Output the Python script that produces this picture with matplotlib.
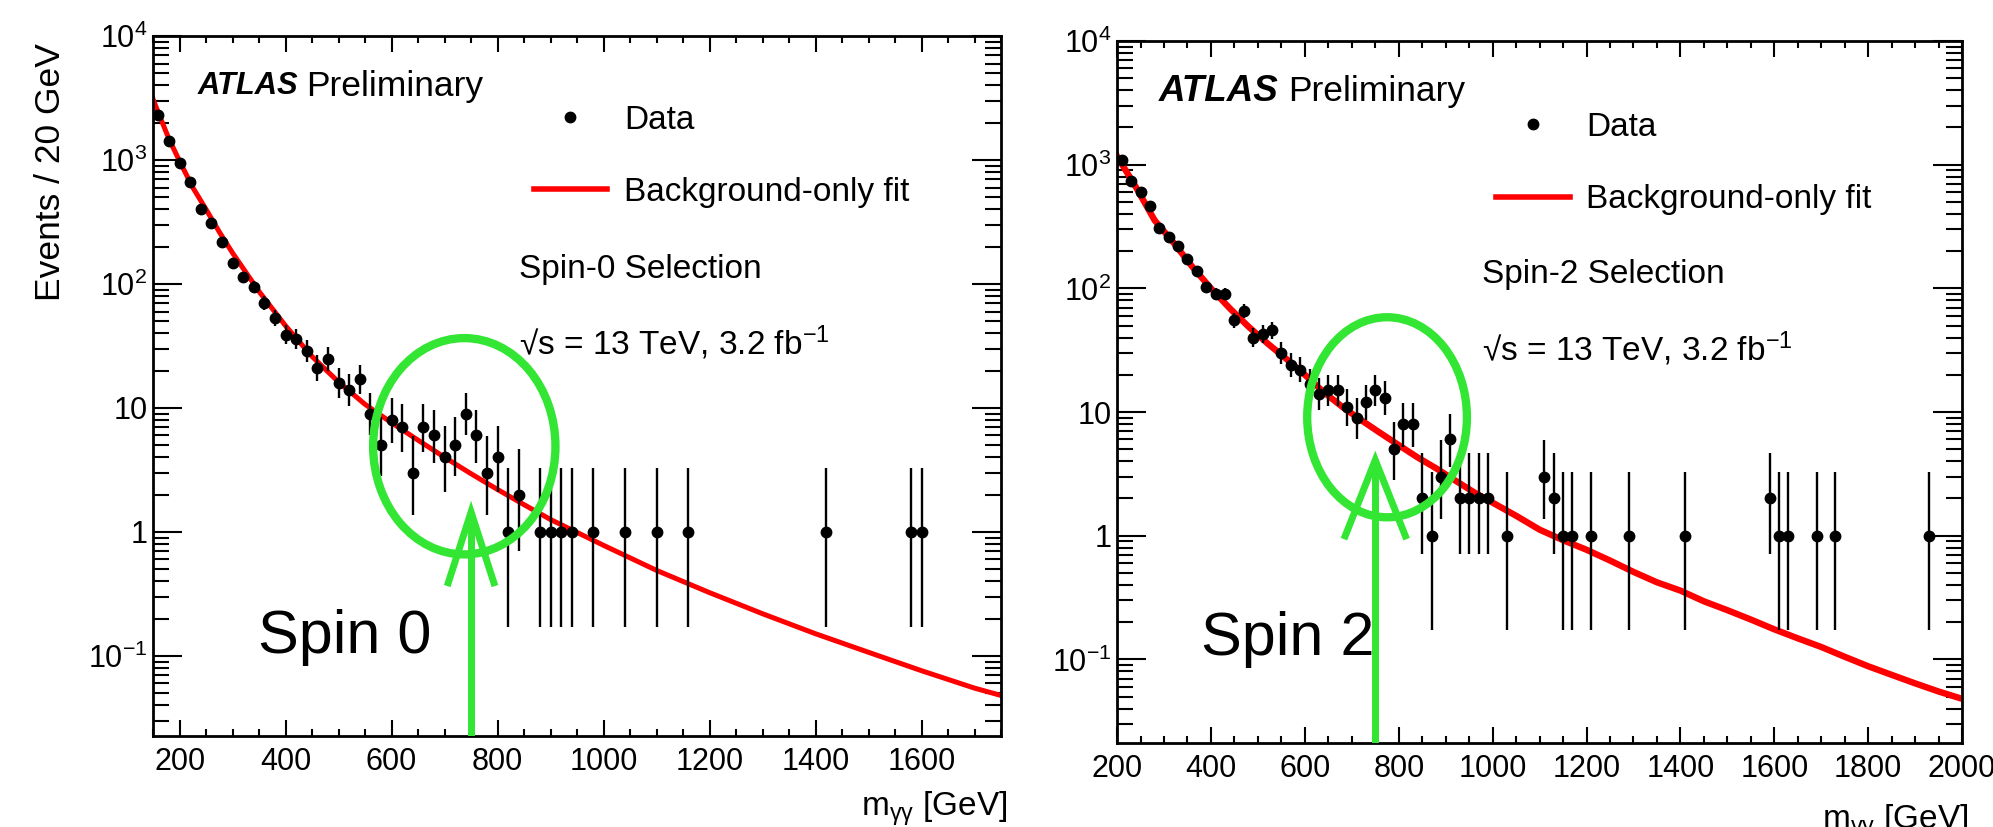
import math
import numpy as np
import matplotlib
matplotlib.use("Agg")
import matplotlib.pyplot as plt
from matplotlib.patches import Ellipse
from matplotlib.lines import Line2D
from matplotlib.ticker import LogLocator, MultipleLocator, FuncFormatter, NullFormatter
from matplotlib.transforms import blended_transform_factory

plt.rcParams['font.family'] = ['Liberation Sans', 'DejaVu Sans']
plt.rcParams['mathtext.fontset'] = 'custom'
plt.rcParams['mathtext.rm'] = 'Liberation Sans'
plt.rcParams['mathtext.it'] = 'Liberation Sans:italic'
plt.rcParams['mathtext.bf'] = 'Liberation Sans:bold'

# ---- spin-0 selection (20 GeV bins from 150 GeV), empty bins left out ----
spin0_mass = [160, 180, 200, 220, 240, 260, 280, 300, 320, 340, 360, 380, 400, 420,
              440, 460, 480, 500, 520, 540, 560, 580, 600, 620, 640, 660, 680, 700,
              720, 740, 760, 780, 800, 820, 840, 880, 900, 920, 940, 980, 1040, 1100,
              1160, 1420, 1580, 1600]
spin0_events = [2300, 1430, 940, 660, 400, 312, 219, 149, 113, 95, 70, 53, 39, 36,
                29, 21, 25, 16, 14, 17, 9, 5, 8, 7, 3, 7, 6, 4,
                5, 9, 6, 3, 4, 1, 2, 1, 1, 1, 1, 1, 1, 1,
                1, 1, 1, 1]
spin0_fit_mass = [150, 160, 180, 200, 225, 250, 275, 300, 350, 400, 450, 500, 550, 600,
                  650, 700, 750, 800, 850, 900, 1000, 1100, 1200, 1300, 1400, 1500,
                  1600, 1700, 1750]
spin0_fit = [3100, 2400, 1480, 980, 600, 400, 263, 178, 87, 46, 26, 16.2, 10.7, 7.6,
             5.5, 4.0, 2.95, 2.2, 1.66, 1.26, 0.78, 0.49, 0.324, 0.219, 0.151, 0.107,
             0.076, 0.055, 0.048]

# ---- spin-2 selection (20 GeV bins from 200 GeV) ----
spin2_mass = [210, 230, 250, 270, 290, 310, 330, 350, 370, 390, 410, 430, 450, 470,
              490, 510, 530, 550, 570, 590, 610, 630, 650, 670, 690, 710, 730, 750,
              770, 790, 810, 830, 850, 870, 890, 910, 930, 950, 970, 990, 1030, 1110,
              1130, 1150, 1170, 1210, 1290, 1410, 1590, 1610, 1630, 1690, 1730, 1930]
spin2_events = [1090, 740, 604, 460, 306, 259, 221, 172, 138, 102, 90, 90, 55, 66,
                40, 43, 46, 30, 24, 22, 17, 14, 15, 15, 11, 9, 12, 15,
                13, 5, 8, 8, 2, 1, 3, 6, 2, 2, 2, 2, 1, 3,
                2, 1, 1, 1, 1, 1, 2, 1, 1, 1, 1, 1]
spin2_fit_mass = [200, 240, 280, 320, 360, 400, 440, 480, 520, 560, 600, 640, 680, 720,
                  760, 800, 840, 880, 920, 960, 1000, 1050, 1100, 1150, 1200, 1250,
                  1300, 1350, 1400, 1450, 1500, 1550, 1600, 1650, 1700, 1750, 1800,
                  1850, 1900, 1950, 2000]
spin2_fit = [1170, 660, 355, 235, 150, 100, 69, 49, 36, 27, 20, 14.5, 11, 8.6,
             6.8, 5.4, 4.3, 3.5, 2.8, 2.25, 1.85, 1.45, 1.12, 0.92, 0.77, 0.63,
             0.51, 0.42, 0.36, 0.295, 0.25, 0.21, 0.175, 0.148, 0.126, 0.105, 0.088,
             0.075, 0.064, 0.055, 0.048]

GREEN = '#33e633'
ALPHA = (1 - 0.682689) / 2


def pois_cdf(n, mu):
    if n < 0:
        return 0.0
    k = np.arange(n + 1)
    lg = np.array([math.lgamma(i + 1) for i in k])
    return float(np.exp(-mu + k * math.log(mu) - lg).sum())


def bisect(f, lo, hi):
    # f is positive below the root and negative above it
    for _ in range(80):
        mid = 0.5 * (lo + hi)
        if f(mid) > 0:
            lo = mid
        else:
            hi = mid
    return 0.5 * (lo + hi)


def garwood(n):
    """ 68% Poisson interval, as ROOT draws it for data points. """
    hi_lim = n + 10 * math.sqrt(n) + 10
    low = 0.0 if n == 0 else bisect(lambda m: pois_cdf(n - 1, m) - (1 - ALPHA), 1e-9, hi_lim)
    up = bisect(lambda m: pois_cdf(n, m) - ALPHA, 1e-9, hi_lim)
    return max(n - low, 0.0), max(up - n, 0.0)


def log_label(v, pos):
    e = int(round(math.log10(v)))
    if e == 0:
        return '1'
    if e == 1:
        return '10'
    return r'10$^{\mathregular{%d}}$' % e


def draw_panel(ax, mass, events, fit_mass, fit, xlim, ylim, fit_lw, selection,
               atlas, big_label, legend_top, ellipse, arrow, xlabel_y):
    errs = [garwood(n) for n in events]
    lo = [e[0] for e in errs]
    hi = [e[1] for e in errs]
    ax.plot(fit_mass, fit, color='red', lw=fit_lw, zorder=2)
    ax.errorbar(mass, events, yerr=[lo, hi], fmt='o', color='black', ms=7.5,
                elinewidth=1.7, capsize=0, zorder=3)
    ax.set_yscale('log')
    ax.set_xlim(*xlim)
    ax.set_ylim(*ylim)

    ax.xaxis.set_major_locator(MultipleLocator(200))
    ax.xaxis.set_minor_locator(MultipleLocator(50))
    ax.yaxis.set_major_locator(LogLocator(base=10, numticks=20))
    ax.yaxis.set_minor_locator(LogLocator(base=10, subs=np.arange(2, 10), numticks=100))
    ax.yaxis.set_major_formatter(FuncFormatter(log_label))
    ax.yaxis.set_minor_formatter(NullFormatter())
    ax.tick_params(which='both', direction='in', top=True, right=True, labelsize=22)
    ax.tick_params(axis='x', which='major', length=11.5, width=1.5, pad=8)
    ax.tick_params(axis='x', which='minor', length=5, width=1.5)
    ax.tick_params(axis='y', which='major', length=21, width=1.5, pad=4)
    ax.tick_params(axis='y', which='minor', length=11.5, width=1.5)
    for s in ax.spines.values():
        s.set_linewidth(2)

    ax.set_xlabel(r'm$_{\mathregular{\gamma\gamma}}$ [GeV]', fontsize=24, ha='right')
    ax.xaxis.set_label_coords(1.008, xlabel_y)

    ax.text(atlas[0], 0.928, 'ATLAS', transform=ax.transAxes, fontsize=atlas[1],
            fontweight='bold', fontstyle='italic', va='center')
    ax.text(atlas[2], 0.928, 'Preliminary', transform=ax.transAxes, fontsize=25.5,
            va='center')

    handles = [Line2D([], [], ls='none', marker='o', color='black', ms=7.5),
               Line2D([], [], color='red', lw=4)]
    ax.legend(handles, ['Data', 'Background-only fit'], loc='upper left',
              bbox_to_anchor=(0.449, legend_top), frameon=False, fontsize=24,
              handlelength=2.2, handletextpad=0.5, labelspacing=1.24,
              borderpad=0, borderaxespad=0)
    ax.text(0.432, 0.667, selection, transform=ax.transAxes, fontsize=24, va='center')
    ax.text(0.432, 0.562, u'\u221as = 13 TeV, 3.2 fb$^{\\mathregular{-1}}$',
            transform=ax.transAxes, fontsize=24, va='center')
    ax.text(big_label[0], big_label[1], big_label[2], transform=ax.transAxes,
            fontsize=44, va='center')

    # hand-drawn highlight of the 750 GeV excess
    ax.add_patch(Ellipse(ellipse[:2], ellipse[2], ellipse[3], transform=ax.transAxes,
                         fill=False, edgecolor=GREEN, lw=6, zorder=5))
    bt = blended_transform_factory(ax.transData, ax.transAxes)
    x0, tip, base, half = arrow
    ax.plot([x0, x0], [0, tip], color=GREEN, lw=5, transform=bt, zorder=5,
            solid_capstyle='butt')
    ax.plot([x0 - half, x0, x0 + half], [base, tip, base], color=GREEN, lw=5,
            transform=bt, zorder=5, solid_joinstyle='miter')


fig = plt.figure(figsize=(19.93, 8.27), dpi=100)
ax0 = fig.add_axes([0.0768, 0.1100, 0.4255, 0.8464])
ax1 = fig.add_axes([0.5605, 0.1016, 0.4240, 0.8488])

draw_panel(ax0, spin0_mass, spin0_events, spin0_fit_mass, spin0_fit,
           (150, 1750), (0.0226, 1e4), 3.6, 'Spin-0 Selection',
           (0.052, 22.2, 0.180), (0.124, 0.141, 'Spin 0'), 0.902,
           (0.367, 0.414, 0.215, 0.309), (750, 0.32, 0.219, 43), -0.077)
draw_panel(ax1, spin2_mass, spin2_events, spin2_fit_mass, spin2_fit,
           (200, 2000), (0.0211, 1e4), 4.6, 'Spin-2 Selection',
           (0.0497, 26.5, 0.2024), (0.099, 0.147, 'Spin 2'), 0.899,
           (0.3195, 0.464, 0.189, 0.285), (750, 0.403, 0.295, 64), -0.085)

ax0.text(-0.121, 0.99, 'Events / 20 GeV', transform=ax0.transAxes, rotation=90,
         fontsize=25.5, ha='center', va='top')

fig.savefig('out.png', dpi=100)
